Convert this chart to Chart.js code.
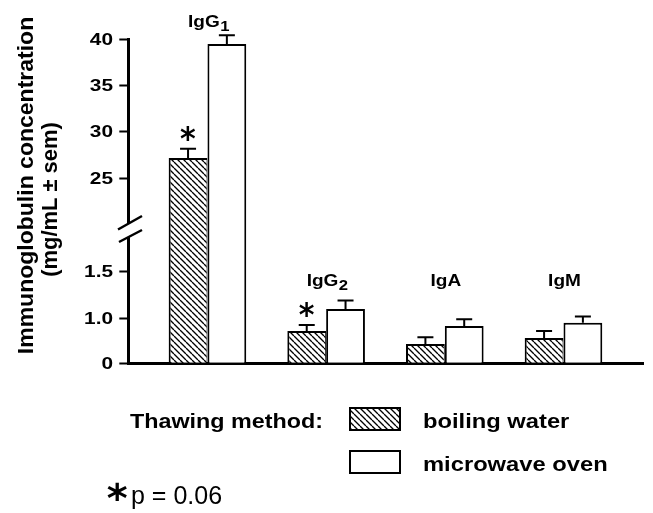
<!DOCTYPE html>
<html>
<head>
<meta charset="utf-8">
<script src="https://cdn.jsdelivr.net/npm/chart.js@4.4.1/dist/chart.umd.min.js"></script>
<style>
  html, body { margin: 0; padding: 0; background: #fff; }
  canvas { display: block; }
</style>
</head>
<body>
<canvas id="chartIg" width="653" height="513"></canvas>
<script>
const categories = ["IgG", "IgG", "IgA", "IgM"];
const categorySubs = ["1", "2", "", ""];
const seriesLabels = ["boiling water", "microwave oven"];
const boilingWater = [27.2, 0.72, 0.43, 0.56];
const boilingSem = [1.0, 0.13, 0.15, 0.16];
const microwaveOven = [39.5, 1.1, 0.83, 0.9];
const microwaveSem = [0.95, 0.09, 0.15, 0.12];
const boilingStarred = [true, true, false, false];
const yTicks = [0, 1.0, 1.5, 25, 30, 35, 40];
const yTickLabels = ["0", "1.0", "1.5", "25", "30", "35", "40"];

const FONT = "'Liberation Sans', Arial, sans-serif";

// the y axis is broken between 1.5 and 25: value -> share of the axis height
const yBreaks = [[0, 0], [1, 0.1389], [1.5, 0.2827], [25, 0.571], [40, 1]];

function toDecimal(v) {
  let i = 1;
  while (i < yBreaks.length - 1 && v > yBreaks[i][0]) i++;
  const a = yBreaks[i - 1], b = yBreaks[i];
  return a[1] + (v - a[0]) / (b[0] - a[0]) * (b[1] - a[1]);
}

function fromDecimal(d) {
  let i = 1;
  while (i < yBreaks.length - 1 && d > yBreaks[i][1]) i++;
  const a = yBreaks[i - 1], b = yBreaks[i];
  return a[0] + (d - a[1]) / (b[1] - a[1]) * (b[0] - a[0]);
}

class BrokenScale extends Chart.LinearScale {
  static id = "broken";
  static defaults = {};
  buildTicks() {
    return yTicks.map((v) => ({ value: v }));
  }
  getPixelForValue(value) {
    return this.getPixelForDecimal(toDecimal(value));
  }
  getValueForPixel(pixel) {
    return fromDecimal(this.getDecimalForPixel(pixel));
  }
}
Chart.register(BrokenScale);

function hatch() {
  const s = 6;
  const c = document.createElement("canvas");
  c.width = s;
  c.height = s;
  const g = c.getContext("2d");
  g.fillStyle = "#fff";
  g.fillRect(0, 0, s, s);
  g.strokeStyle = "#000";
  g.lineWidth = 1.35;
  g.beginPath();
  for (let k = -1; k <= 1; k++) {
    g.moveTo(k * s, 0);
    g.lineTo(k * s + s, s);
  }
  g.stroke();
  return g.createPattern(c, "repeat");
}

function stretchText(c, text, x, y, o) {
  c.save();
  c.font = o.font;
  c.textAlign = o.align || "left";
  c.textBaseline = "alphabetic";
  c.fillStyle = "#000";
  c.translate(x, y);
  if (o.rotate) c.rotate(o.rotate);
  c.scale(o.sx || 1, 1);
  c.fillText(text, 0, 0);
  c.restore();
}

// asterisk glyph squeezed into a w x h box centred on cx, cy
function drawStar(c, cx, cy, w, h) {
  c.save();
  c.font = "bold 60px 'DejaVu Sans'";
  c.textAlign = "left";
  c.textBaseline = "alphabetic";
  const m = c.measureText("*");
  const gw = m.actualBoundingBoxLeft + m.actualBoundingBoxRight;
  const gh = m.actualBoundingBoxAscent + m.actualBoundingBoxDescent;
  c.translate(cx, cy);
  c.scale(w / gw, h / gh);
  c.fillStyle = "#000";
  c.fillText("*", -(m.actualBoundingBoxRight - m.actualBoundingBoxLeft) / 2,
    (m.actualBoundingBoxAscent - m.actualBoundingBoxDescent) / 2);
  c.restore();
}

const sems = [boilingSem, microwaveSem];
const values = [boilingWater, microwaveOven];

const figureText = {
  id: "figureText",
  afterDatasetsDraw(chart) {
    const c = chart.ctx;
    const y = chart.scales.y;
    c.save();
    c.strokeStyle = "#000";
    c.lineWidth = 2;
    for (let d = 0; d < 2; d++) {
      chart.getDatasetMeta(d).data.forEach((bar, i) => {
        const top = y.getPixelForValue(values[d][i] + sems[d][i]);
        c.beginPath();
        c.moveTo(bar.x, bar.y);
        c.lineTo(bar.x, top);
        c.moveTo(bar.x - 8, top);
        c.lineTo(bar.x + 8, top);
        c.stroke();
      });
    }
    c.restore();
  },
  afterDraw(chart) {
    const c = chart.ctx;
    const y = chart.scales.y;
    const x = chart.scales.x;

    // axis break
    c.save();
    c.fillStyle = "#fff";
    c.beginPath();
    c.moveTo(118, 229.5);
    c.lineTo(142, 216);
    c.lineTo(142, 230);
    c.lineTo(119, 242);
    c.closePath();
    c.fill();
    c.strokeStyle = "#000";
    c.lineWidth = 2.5;
    c.beginPath();
    c.moveTo(118, 229.5);
    c.lineTo(142, 216);
    c.moveTo(119, 242);
    c.lineTo(142, 230);
    c.stroke();
    c.restore();

    // tick labels
    y.ticks.forEach((t, i) => {
      stretchText(c, yTickLabels[i], 113, y.getPixelForTick(i) + 5.3,
        { font: "bold 16px " + FONT, align: "right", sx: 1.3 });
    });

    // y title
    stretchText(c, "Immunoglobulin concentration", 33, 185.5,
      { font: "bold 21.5px " + FONT, align: "center", rotate: -Math.PI / 2, sx: 1.07 });
    stretchText(c, "(mg/mL \u00b1 sem)", 56.7, 199.5,
      { font: "bold 21.5px " + FONT, align: "center", rotate: -Math.PI / 2, sx: 1.02 });

    // category labels
    const mainFont = "bold 16px " + FONT;
    const subFont = "bold 14px " + FONT;
    categories.forEach((name, i) => {
      const cx = x.getPixelForValue(i) + 1;
      const errTop = Math.min(
        y.getPixelForValue(boilingWater[i] + boilingSem[i]),
        y.getPixelForValue(microwaveOven[i] + microwaveSem[i]));
      const base = Math.min(y.getPixelForValue(1.5) + 14.3, errTop - 8);
      c.font = mainFont;
      const w1 = c.measureText(name).width * 1.19;
      c.font = subFont;
      const w2 = categorySubs[i] ? c.measureText(categorySubs[i]).width * 1.19 : 0;
      const left = cx - (w1 + w2) / 2;
      stretchText(c, name, left, base, { font: mainFont, sx: 1.19 });
      if (categorySubs[i]) {
        stretchText(c, categorySubs[i], left + w1 + 0.5, base + 4, { font: subFont, sx: 1.19 });
      }
    });

    // significance marks
    const meta = chart.getDatasetMeta(0);
    boilingStarred.forEach((s, i) => {
      if (!s) return;
      const top = y.getPixelForValue(boilingWater[i] + boilingSem[i]);
      drawStar(c, meta.data[i].x, top - 16, 15, 15);
    });

    // legend
    const legFont = "bold 21px " + FONT;
    stretchText(c, "Thawing method:", 130, 428, { font: legFont, sx: 1.11 });
    const boxes = [408, 451];
    chart.data.datasets.forEach((ds, d) => {
      c.save();
      c.fillStyle = ds.backgroundColor;
      c.fillRect(350, boxes[d], 50, 22);
      c.strokeStyle = "#000";
      c.lineWidth = 2;
      c.strokeRect(350, boxes[d], 50, 22);
      c.restore();
      stretchText(c, ds.label, 423, boxes[d] + 20, { font: legFont, sx: 1.13 });
    });

    // footnote
    drawStar(c, 117.5, 491.5, 20, 19);
    stretchText(c, "p = 0.06", 131, 504, { font: "25px " + FONT, sx: 1.0 });
  },
};

const pattern = hatch();
const ctx = document.getElementById("chartIg").getContext("2d");

const chart = new Chart(ctx, {
  type: "bar",
  data: {
    datasets: [
      {
        label: seriesLabels[0],
        data: boilingWater.map((v, i) => ({ x: i, y: v })),
        backgroundColor: pattern,
        borderColor: "#000",
        borderWidth: { top: 2, left: 2, right: 1, bottom: 0 },
        categoryPercentage: 0.654,
        barPercentage: 1,
      },
      {
        label: seriesLabels[1],
        data: microwaveOven.map((v, i) => ({ x: i, y: v })),
        backgroundColor: "#fff",
        borderColor: "#000",
        borderWidth: { top: 2, left: 2, right: 2, bottom: 0 },
        categoryPercentage: 0.654,
        barPercentage: 1,
      },
    ],
  },
  options: {
    responsive: false,
    animation: false,
    events: [],
    layout: { padding: { top: 39.3, right: 10, bottom: 149.7, left: 0 } },
    scales: {
      x: {
        type: "linear",
        min: -0.667,
        max: 3.67,
        offset: false,
        z: 1,
        grid: { display: false, offset: false },
        ticks: { display: false },
        border: { color: "#000", width: 3 },
        // one tick per group so the bar ruler uses the group spacing
        afterBuildTicks: (s) => { s.ticks = categories.map((n, i) => ({ value: i })); },
        afterFit: (s) => { s.height = 0; },
      },
      y: {
        type: "broken",
        min: 0,
        max: 40,
        grid: { drawOnChartArea: false, tickLength: 9, tickWidth: 2, tickColor: "#000" },
        ticks: { display: false, autoSkip: false, callback: (v, i) => yTickLabels[i] },
        border: { color: "#000", width: 3 },
        afterFit: (s) => { s.width = 128.3; },
      },
    },
    plugins: {
      legend: { display: false },
      tooltip: { enabled: false },
    },
  },
  plugins: [figureText],
});
</script>
</body>
</html>
